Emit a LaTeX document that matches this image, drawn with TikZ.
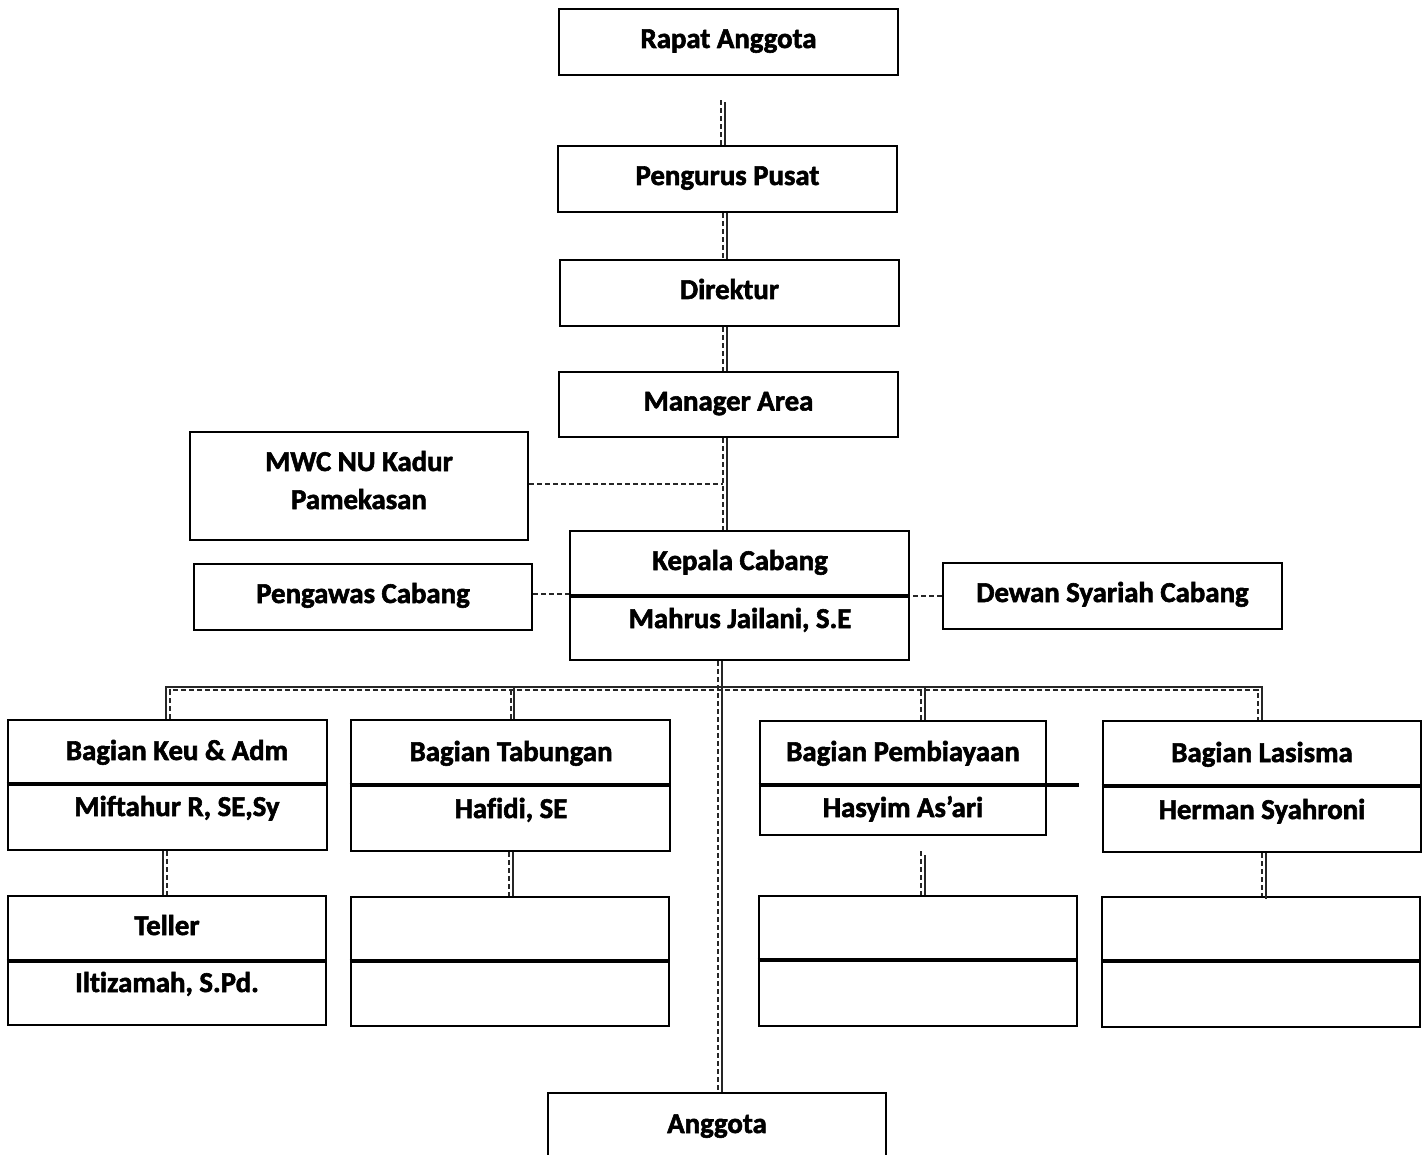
\documentclass[tikz,border=0pt]{standalone}
\usepackage{fontspec}
\setmainfont{Carlito}[Ligatures={NoCommon}, BoldFeatures={FakeBold=2}]
\usetikzlibrary{calc}
\begin{document}
\begin{tikzpicture}[x=1pt,y=-1pt,
  box/.style={draw=black, line width=2.6pt, inner sep=0pt, font=\fontsize{28.8}{38}\selectfont\bfseries, align=center, text height=19pt, text depth=7pt},
  txt/.style={inner sep=0pt, font=\fontsize{28.8}{34}\selectfont\bfseries, text height=19pt, text depth=7pt, yshift=-3pt},
  divider/.style={line width=4.5pt, black},
  sol/.style={line width=1.3pt, black!85},
  dsh/.style={line width=1.3pt, black!85, dash pattern=on 5pt off 3pt}]
\useasboundingbox (0,0) rectangle (1424,1155);
% boxes
\node[box, minimum width=339pt, minimum height=66pt] (rapat) at (728.5,42) {Rapat Anggota};
\node[box, minimum width=339pt, minimum height=66pt] (pengurus) at (727.5,179) {Pengurus Pusat};
\node[box, minimum width=339pt, minimum height=66pt] (direktur) at (729.5,293) {Direktur};
\node[box, minimum width=339pt, minimum height=65pt] (manager) at (728.5,404.5) {Manager Area};
\node[box, minimum width=338pt, minimum height=108pt] (mwc) at (359,486) {};
\node[box, minimum width=339pt, minimum height=129pt] (kepala) at (739.5,595.5) {};
\node[box, minimum width=338pt, minimum height=66pt] (pengawas) at (363,597) {Pengawas Cabang};
\node[box, minimum width=339pt, minimum height=66pt] (dewan) at (1112.5,596) {Dewan Syariah Cabang};
\node[box, minimum width=319pt, minimum height=130pt] (keu) at (167.5,785) {};
\node[box, minimum width=319pt, minimum height=131pt] (tabungan) at (510.5,785.5) {};
\node[box, minimum width=286pt, minimum height=114pt] (pemb) at (903,778) {};
\node[box, minimum width=318pt, minimum height=131pt] (lasisma) at (1262,786.5) {};
\node[box, minimum width=318pt, minimum height=129pt] (teller) at (167,960.5) {};
\node[box, minimum width=318pt, minimum height=129pt] (b2) at (510,961.5) {};
\node[box, minimum width=318pt, minimum height=130pt] (b3) at (918,961) {};
\node[box, minimum width=318pt, minimum height=130pt] (b4) at (1261,962) {};
\node[box, minimum width=338pt, minimum height=90pt] (anggota) at (717,1138) {};
% dividers
\draw[divider] (kepala.west |- 0,596) -- (kepala.east |- 0,596);
\draw[divider] (keu.west |- 0,784) -- (keu.east |- 0,784);
\draw[divider] (tabungan.west |- 0,785) -- (tabungan.east |- 0,785);
\draw[divider] (pemb.west |- 0,785) -- (1079,785);
\draw[divider] (lasisma.west |- 0,786) -- (lasisma.east |- 0,786);
\draw[divider] (teller.west |- 0,961) -- (teller.east |- 0,961);
\draw[divider] (b2.west |- 0,961) -- (b2.east |- 0,961);
\draw[divider] (b3.west |- 0,960) -- (b3.east |- 0,960);
\draw[divider] (b4.west |- 0,961) -- (b4.east |- 0,961);
% texts
\node[txt] (m1) at (359,462) {MWC NU Kadur};
\node[txt] (m2) at (359,500) {Pamekasan};
\node[txt] (t1) at (740,561) {Kepala Cabang};
\node[txt] (t2) at (740,619) {Mahrus Jailani, S.E};
\node[txt] (t3) at (177,751) {Bagian Keu \& Adm};
\node[txt] (t4) at (177,807) {Miftahur R, SE,Sy};
\node[txt] (t5) at (511,752) {Bagian Tabungan};
\node[txt] (t6) at (511,809) {Hafidi, SE};
\node[txt] (t7) at (903,752) {Bagian Pembiayaan};
\node[txt] (t8) at (903,808) {Hasyim As’ari};
\node[txt] (t9) at (1262,753) {Bagian Lasisma};
\node[txt] (t10) at (1262,810) {Herman Syahroni};
\node[txt] (t11) at (167,926) {Teller};
\node[txt] (t12) at (167,983) {Iltizamah, S.Pd.};
\node[txt] (t13) at (717,1124) {Anggota};
% vertical spine
\draw[sol] ([xshift=-3.5pt,yshift=-26pt]rapat.south) -- ([xshift=-2.5pt]pengurus.north);
\draw[dsh] ([xshift=-7.5pt,yshift=-24pt]rapat.south) -- ([xshift=-6.5pt]pengurus.north);
\draw[sol] ([xshift=-0.5pt]pengurus.south) -- ([xshift=-2.5pt]direktur.north);
\draw[dsh] ([xshift=-4.5pt]pengurus.south) -- ([xshift=-6.5pt]direktur.north);
\draw[sol] ([xshift=-2.5pt]direktur.south) -- ([xshift=-1.5pt]manager.north);
\draw[dsh] ([xshift=-6.5pt]direktur.south) -- ([xshift=-5.5pt]manager.north);
\draw[sol] ([xshift=-1.5pt]manager.south) -- ([xshift=-12.5pt]kepala.north);
\draw[dsh] ([xshift=-5.5pt]manager.south) -- ([xshift=-16.5pt]kepala.north);
% side links
\draw[dsh] ([yshift=2pt]mwc.east) -- ([xshift=-16.5pt,yshift=2pt]kepala.north |- mwc.east);
\draw[dsh] ([yshift=3pt]pengawas.east) -- ([yshift=3pt]pengawas.east -| kepala.west);
\draw[dsh] (dewan.west) -- (dewan.west -| kepala.east);
% to anggota
\draw[sol] ([xshift=-17.5pt]kepala.south) -- ([xshift=5pt]anggota.north);
\draw[dsh] ([xshift=-21.5pt]kepala.south) -- ([xshift=1pt]anggota.north);
% bus
\coordinate (bus) at (0,687);
\coordinate (busd) at (0,690);
\draw[sol] ([xshift=-1.5pt]keu.north) |- (bus -| lasisma.north) -- (lasisma.north);
\draw[sol] ([xshift=3.5pt]tabungan.north) -- ([xshift=3.5pt]tabungan.north |- bus);
\draw[sol] ([xshift=22pt]pemb.north) -- ([xshift=22pt]pemb.north |- bus);
\draw[dsh] ([xshift=2.5pt]keu.north) |- ([xshift=-4pt]lasisma.north |- busd) -- ([xshift=-4pt]lasisma.north);
\draw[dsh] ([xshift=0.5pt]tabungan.north) -- ([xshift=0.5pt]tabungan.north |- busd);
\draw[dsh] ([xshift=18pt]pemb.north) -- ([xshift=18pt]pemb.north |- busd);
% second level
\draw[sol] ([xshift=-4.5pt]keu.south) -- ([xshift=-4pt]teller.north);
\draw[dsh] ([xshift=-0.5pt]keu.south) -- ([xshift=0pt]teller.north);
\draw[sol] ([xshift=2.5pt]tabungan.south) -- ([xshift=3pt]b2.north);
\draw[dsh] ([xshift=-1.5pt]tabungan.south) -- ([xshift=-1pt]b2.north);
\draw[sol] ([xshift=22pt,yshift=-19pt]pemb.south) -- ([xshift=7pt]b3.north);
\draw[dsh] ([xshift=18pt,yshift=-15pt]pemb.south) -- ([xshift=3pt]b3.north);
\draw[sol] ([xshift=4pt]lasisma.south) -- ([xshift=5pt,yshift=-3pt]b4.north);
\draw[dsh] ([xshift=0pt]lasisma.south) -- ([xshift=1pt]b4.north);
\end{tikzpicture}
\end{document}
